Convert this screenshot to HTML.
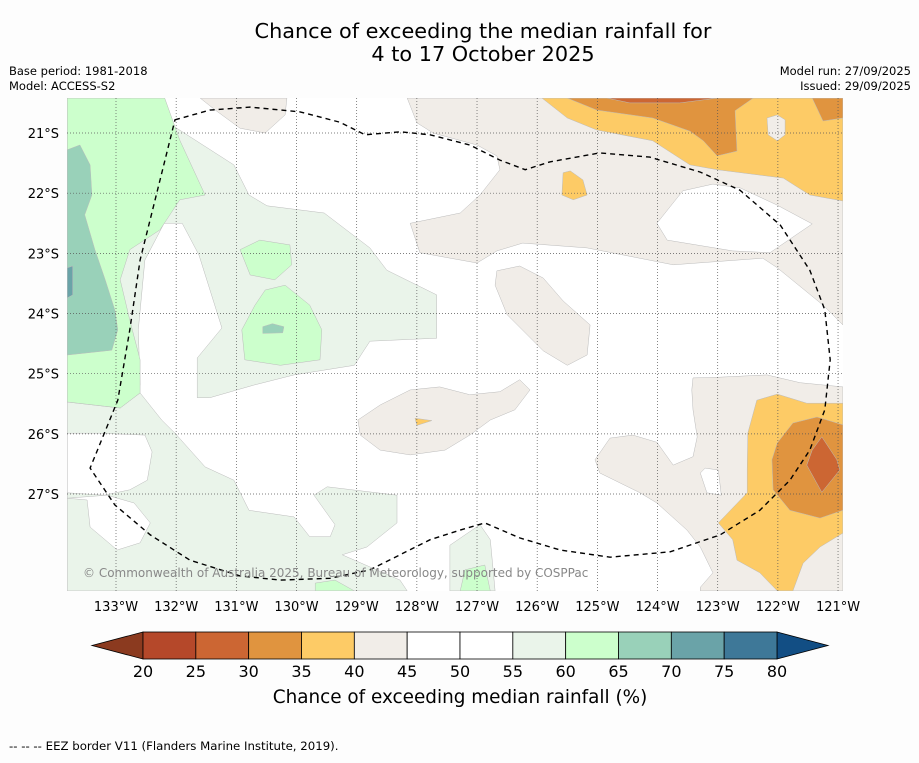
<!DOCTYPE html>
<html><head><meta charset="utf-8"><style>
html,body{margin:0;padding:0;background:#fdfdfd;}
svg text{font-family:"DejaVu Sans","Liberation Sans",sans-serif;}
</style></head><body>
<svg id="chart" width="919" height="758" viewBox="0 0 919 758" xmlns="http://www.w3.org/2000/svg">
<rect width="919" height="758" fill="#fdfdfd"/>
<text x="483" y="38" font-size="20.8" text-anchor="middle">Chance of exceeding the median rainfall for</text>
<text x="483" y="61" font-size="20.8" text-anchor="middle">4 to 17 October 2025</text>
<text x="9" y="75" font-size="11.5">Base period: 1981-2018</text>
<text x="9" y="90" font-size="11.5">Model: ACCESS-S2</text>
<text x="911" y="75" font-size="11.5" text-anchor="end">Model run: 27/09/2025</text>
<text x="911" y="90" font-size="11.5" text-anchor="end">Issued: 29/09/2025</text>
<defs><clipPath id="mapclip"><rect x="67" y="98" width="776" height="493"/></clipPath></defs>
<g id="map" clip-path="url(#mapclip)">
<rect x="67" y="98" width="776" height="493" fill="#ffffff"/>
<g id="fills"></g><g id="grid"></g><g id="eez"></g>
</g>
<text x="83" y="577" font-size="12" fill="#888">© Commonwealth of Australia 2025, Bureau of Meteorology, supported by COSPPac</text>
<g id="ticks"></g>
<g id="colorbar"></g>
<text x="460" y="703" font-size="18.4" text-anchor="middle">Chance of exceeding median rainfall (%)</text>
<text x="9" y="750" font-size="11.75">--  --  -- EEZ border V11 (Flanders Marine Institute, 2019).</text>
</svg>
<script>
const lonTicks=[133,132,131,130,129,128,127,126,125,124,123,122,121];
const latTicks=[21,22,23,24,25,26,27];
const levels=[20,25,30,35,40,45,50,55,60,65,70,75,80];
const levelColors=["#b5482a","#cc6633","#e0943f","#fdcb66","#f1ede8","#ffffff","#ffffff","#eaf4ea","#ccffcc","#99d1b9","#6aa3a8","#3e7898"];
const lowExtendColor="#8b3a1f";
const highExtendColor="#124e84";
// contour regions: points [deg W, deg S]
const beigeTop=[[131.6,20.42],[130.16,20.42],[130.19,20.7],[130.52,21.0],[130.94,20.92],[131.35,20.62]];
const paleGreenUpper=[[132.77,20.42],[131.04,21.53],[130.79,22.03],[130.49,22.21],[129.54,22.33],[128.78,22.91],[128.5,23.28],[127.67,23.69],[127.67,24.41],[128.78,24.46],[129.04,24.86],[130.04,25.02],[130.71,25.19],[131.44,25.4],[131.65,25.4],[131.65,24.74],[131.24,24.24],[131.62,23.03],[131.9,22.5],[132.2,22.5],[132.52,23.11],[132.63,24.27],[132.6,25.19],[133.81,25.19],[133.81,20.42]];
const paleGreenLower=[[133.81,25.47],[132.93,25.57],[132.6,25.32],[132.24,25.77],[132.02,25.99],[131.52,26.55],[131.04,26.77],[130.79,27.27],[130.04,27.38],[129.78,27.71],[129.44,27.71],[129.36,27.51],[129.71,27.02],[129.49,26.88],[128.33,27.02],[128.33,27.48],[128.83,27.88],[129.24,28.01],[128.28,28.43],[128.16,28.61],[133.81,28.61]];
const whiteHoleA=[[133.81,25.99],[133.27,25.99],[132.52,26.02],[132.4,26.3],[132.48,26.77],[132.77,26.93],[133.2,27.02],[133.81,26.98]];
const whiteHoleB=[[133.81,27.07],[133.48,27.1],[133.43,27.55],[132.98,27.93],[132.6,27.81],[132.43,27.48],[132.7,27.15],[133.15,27.02]];
const paleGreenBottomMid=[[127.45,27.85],[126.95,27.51],[126.78,27.76],[126.7,28.61],[127.45,28.61]];
const greenLeft=[[133.81,20.42],[132.19,20.42],[131.94,21.12],[131.52,22.03],[131.94,22.11],[132.27,22.61],[132.77,22.94],[132.93,23.44],[132.77,24.11],[132.6,24.77],[132.6,25.32],[132.93,25.57],[133.81,25.47]];
const tealLeft=[[133.81,21.28],[133.6,21.2],[133.43,21.53],[133.4,22.03],[133.52,22.36],[133.35,22.94],[133.18,23.44],[133.02,23.94],[132.97,24.27],[133.07,24.61],[133.81,24.69]];
const darkTealLeft=[[133.81,23.24],[133.72,23.21],[133.72,23.69],[133.81,23.74]];
const greenBlob1=[[130.94,22.94],[130.61,22.78],[130.11,22.86],[130.08,23.19],[130.36,23.44],[130.77,23.36]];
const greenBlob2=[[130.52,23.61],[130.19,23.53],[129.78,23.86],[129.58,24.27],[129.61,24.77],[130.27,24.86],[130.86,24.77],[130.91,24.27],[130.69,23.86]];
const tealBlob=[[130.56,24.22],[130.4,24.17],[130.21,24.22],[130.23,24.32],[130.56,24.33]];
const greenBottomMid=[[127.2,28.26],[126.87,28.18],[126.78,28.61],[127.28,28.61]];
const greenBottomLeft=[[129.69,28.48],[129.36,28.43],[129.04,28.61],[129.69,28.61]];
const beigeUpperRight=[[128.16,20.42],[125.92,20.42],[120.92,20.42],[120.92,22.13],[120.92,24.19],[121.25,23.86],[122.01,23.24],[122.25,23.08],[123.74,23.19],[125.17,22.91],[126.24,22.83],[126.67,22.96],[127.0,23.16],[127.95,22.99],[128.11,22.5],[127.28,22.33],[126.95,22.03],[126.62,21.61],[126.67,21.38],[127.0,21.2],[127.73,21.0],[128.0,20.83]];
const whiteHoleRight=[[124.01,22.5],[123.58,21.96],[123.08,21.85],[122.63,21.91],[122.01,22.2],[121.43,22.51],[122.13,22.99],[122.75,22.96],[123.84,22.78]];
const yellowTopRight=[[125.92,20.42],[120.92,20.42],[120.92,22.13],[121.47,22.03],[121.91,21.75],[123.01,21.61],[123.46,21.53],[124.08,21.13],[125.01,20.95],[125.5,20.75]];
const orangeTopRight=[[125.5,20.42],[122.41,20.42],[122.71,20.63],[122.68,21.3],[123.01,21.38],[123.24,21.13],[123.46,20.97],[124.08,20.75],[125.01,20.62]];
const orangeTopCorner=[[121.43,20.42],[120.92,20.42],[120.92,20.75],[121.25,20.8]];
const darkOrangeTop=[[124.84,20.42],[123.01,20.42],[123.63,20.5],[124.46,20.5]];
const beigeSpotTop=[[122.18,20.75],[122.01,20.7],[121.88,20.78],[121.88,21.03],[122.01,21.13],[122.16,21.03]];
const yellowSmall=[[125.57,21.66],[125.45,21.63],[125.24,21.78],[125.17,22.03],[125.4,22.11],[125.59,22.03]];
const beigeMidBlob=[[126.67,23.29],[126.29,23.21],[125.9,23.41],[125.57,23.79],[125.12,24.19],[125.17,24.69],[125.5,24.86],[125.9,24.62],[126.5,24.02],[126.7,23.53]];
const beigeCenterBlob=[[128.98,25.77],[128.61,25.52],[128.11,25.27],[127.62,25.22],[127.12,25.35],[126.62,25.3],[126.29,25.1],[126.12,25.27],[126.37,25.6],[126.78,25.77],[127.12,26.02],[127.53,26.27],[128.11,26.35],[128.61,26.27],[128.94,26.02]];
const yellowTiny=[[128.03,25.74],[127.75,25.78],[128.0,25.86]];
const beigeLowerRight=[[120.92,25.22],[121.63,25.15],[122.18,25.02],[123.01,25.06],[123.41,25.07],[123.43,25.27],[123.41,25.6],[123.34,26.05],[123.41,26.38],[123.74,26.52],[124.01,26.14],[124.41,26.02],[124.79,26.07],[125.04,26.43],[124.96,26.65],[124.29,26.98],[124.01,27.15],[123.51,27.6],[123.29,27.88],[123.08,28.31],[123.29,28.55],[123.29,28.61],[120.92,28.61]];
const whiteHoleLower=[[123.29,26.65],[123.21,26.57],[122.99,26.6],[122.94,27.02],[123.18,26.98]];
const yellowLowerRight=[[122.35,25.44],[122.01,25.34],[121.52,25.49],[120.92,25.49],[120.92,27.65],[121.3,27.88],[121.58,28.15],[121.75,28.61],[122.01,28.61],[122.3,28.31],[122.68,28.1],[122.75,27.76],[122.99,27.48],[122.51,26.98],[122.51,26.6],[122.5,25.99]];
const orangeLowerRight=[[122.01,26.15],[121.75,25.82],[121.35,25.72],[120.92,25.85],[120.92,27.27],[121.3,27.4],[121.8,27.27],[122.08,26.93],[122.1,26.43]];
const darkOrangeLowerRight=[[121.27,26.05],[121.02,26.43],[120.97,26.6],[121.27,26.97],[121.52,26.52],[121.43,26.27]];
const eezBorder=[[132.02,20.78],[131.44,20.62],[130.77,20.57],[129.94,20.65],[129.28,20.82],[128.86,21.03],[128.28,20.98],[127.78,21.03],[127.12,21.2],[126.62,21.45],[126.2,21.61],[125.79,21.48],[124.96,21.33],[124.13,21.4],[123.29,21.65],[122.63,21.95],[121.96,22.53],[121.47,23.28],[121.22,23.94],[121.13,24.77],[121.22,25.6],[121.47,26.27],[121.8,26.77],[122.3,27.27],[122.96,27.68],[123.79,27.96],[124.79,28.05],[125.62,27.93],[126.29,27.73],[126.87,27.48],[127.28,27.6],[127.78,27.76],[128.28,28.01],[128.78,28.26],[129.44,28.4],[130.27,28.43],[130.94,28.36],[131.77,28.1],[132.43,27.68],[133.02,27.18],[133.43,26.57],[132.97,25.44],[132.77,24.27],[132.6,23.11],[132.35,22.11]];

const regions=[
 ["beige-top",40,beigeTop],["pale-green-upper",55,paleGreenUpper],["pale-green-lower",55,paleGreenLower],
 ["white-hole-a",50,whiteHoleA],["white-hole-b",50,whiteHoleB],["pale-green-bottom-mid",55,paleGreenBottomMid],
 ["green-left",60,greenLeft],["teal-left",65,tealLeft],["dark-teal-left",70,darkTealLeft],
 ["green-blob-1",60,greenBlob1],["green-blob-2",60,greenBlob2],["teal-blob",65,tealBlob],["green-bottom-mid",60,greenBottomMid],["green-bottom-left",60,greenBottomLeft],
 ["beige-upper-right",40,beigeUpperRight],["white-hole-right",50,whiteHoleRight],
 ["yellow-top-right",35,yellowTopRight],["orange-top-right",30,orangeTopRight],["orange-top-corner",30,orangeTopCorner],["dark-orange-top",25,darkOrangeTop],["beige-spot-top",40,beigeSpotTop],
 ["yellow-small",35,yellowSmall],["beige-mid-blob",40,beigeMidBlob],["beige-center-blob",40,beigeCenterBlob],["yellow-tiny",35,yellowTiny],
 ["beige-lower-right",40,beigeLowerRight],["white-hole-lower",50,whiteHoleLower],
 ["yellow-lower-right",35,yellowLowerRight],["orange-lower-right",30,orangeLowerRight],["dark-orange-lower-right",25,darkOrangeLowerRight]
];

const NS="http://www.w3.org/2000/svg";
const X=w=>116+(133-w)*60.17;
const Y=s=>133+(s-21)*60.17;
function mk(tag,parent,attrs){const e=document.createElementNS(NS,tag);for(const k in attrs)e.setAttribute(k,attrs[k]);parent.appendChild(e);return e;}
function colorFor(lv){return levelColors[levels.indexOf(lv)];}

const fills=document.getElementById('fills');
regions.forEach(r=>{
  const p=mk('polygon',fills,{points:r[2].map(q=>X(q[0]).toFixed(1)+','+Y(q[1]).toFixed(1)).join(' '),fill:colorFor(r[1]),stroke:'#bbbbbb','stroke-width':'0.5'});
  
  
});

const grid=document.getElementById('grid');
lonTicks.forEach(w=>{
  const l=mk('line',grid,{x1:X(w),x2:X(w),y1:98,y2:591,stroke:'#555','stroke-width':'0.7','stroke-dasharray':'1,2'});
  
  
});
latTicks.forEach(s=>{
  const l=mk('line',grid,{x1:67,x2:843,y1:Y(s),y2:Y(s),stroke:'#555','stroke-width':'0.7','stroke-dasharray':'1,2'});
  
  
});

const eez=mk('polygon',document.getElementById('eez'),{points:eezBorder.map(q=>X(q[0]).toFixed(1)+','+Y(q[1]).toFixed(1)).join(' '),fill:'none',stroke:'#000','stroke-width':'1.4','stroke-dasharray':'5,4'});



const ticks=document.getElementById('ticks');
lonTicks.forEach(w=>{
  const t=mk('text',ticks,{x:X(w),y:611,'font-size':13,'text-anchor':'middle'});t.textContent=w+'°W';
  
  
});
latTicks.forEach(s=>{
  const t=mk('text',ticks,{x:59,y:Y(s)+5,'font-size':13,'text-anchor':'end'});t.textContent=s+'°S';
  
  
});

const cb=document.getElementById('colorbar');
const cbX=v=>143+(v-20)*(777-143)/60;
const cbTop=632,cbBot=659;
const lowTri=mk('polygon',cb,{points:`${cbX(20)},${cbTop} ${cbX(20)},${cbBot} 92,${(cbTop+cbBot)/2}`,fill:lowExtendColor,stroke:'#000','stroke-width':'0.8'});


const highTri=mk('polygon',cb,{points:`${cbX(80)},${cbTop} ${cbX(80)},${cbBot} 828,${(cbTop+cbBot)/2}`,fill:highExtendColor,stroke:'#000','stroke-width':'0.8'});


for(let i=0;i<levelColors.length;i++){
  const r=mk('rect',cb,{x:cbX(levels[i]),y:cbTop,width:cbX(levels[i+1])-cbX(levels[i]),height:cbBot-cbTop,fill:levelColors[i],stroke:'#000','stroke-width':'0.8'});
  
  
}
levels.forEach(v=>{
  const t=mk('text',cb,{x:cbX(v),y:677,'font-size':16,'text-anchor':'middle'});t.textContent=v;
  
  
});
</script>
</body></html>
